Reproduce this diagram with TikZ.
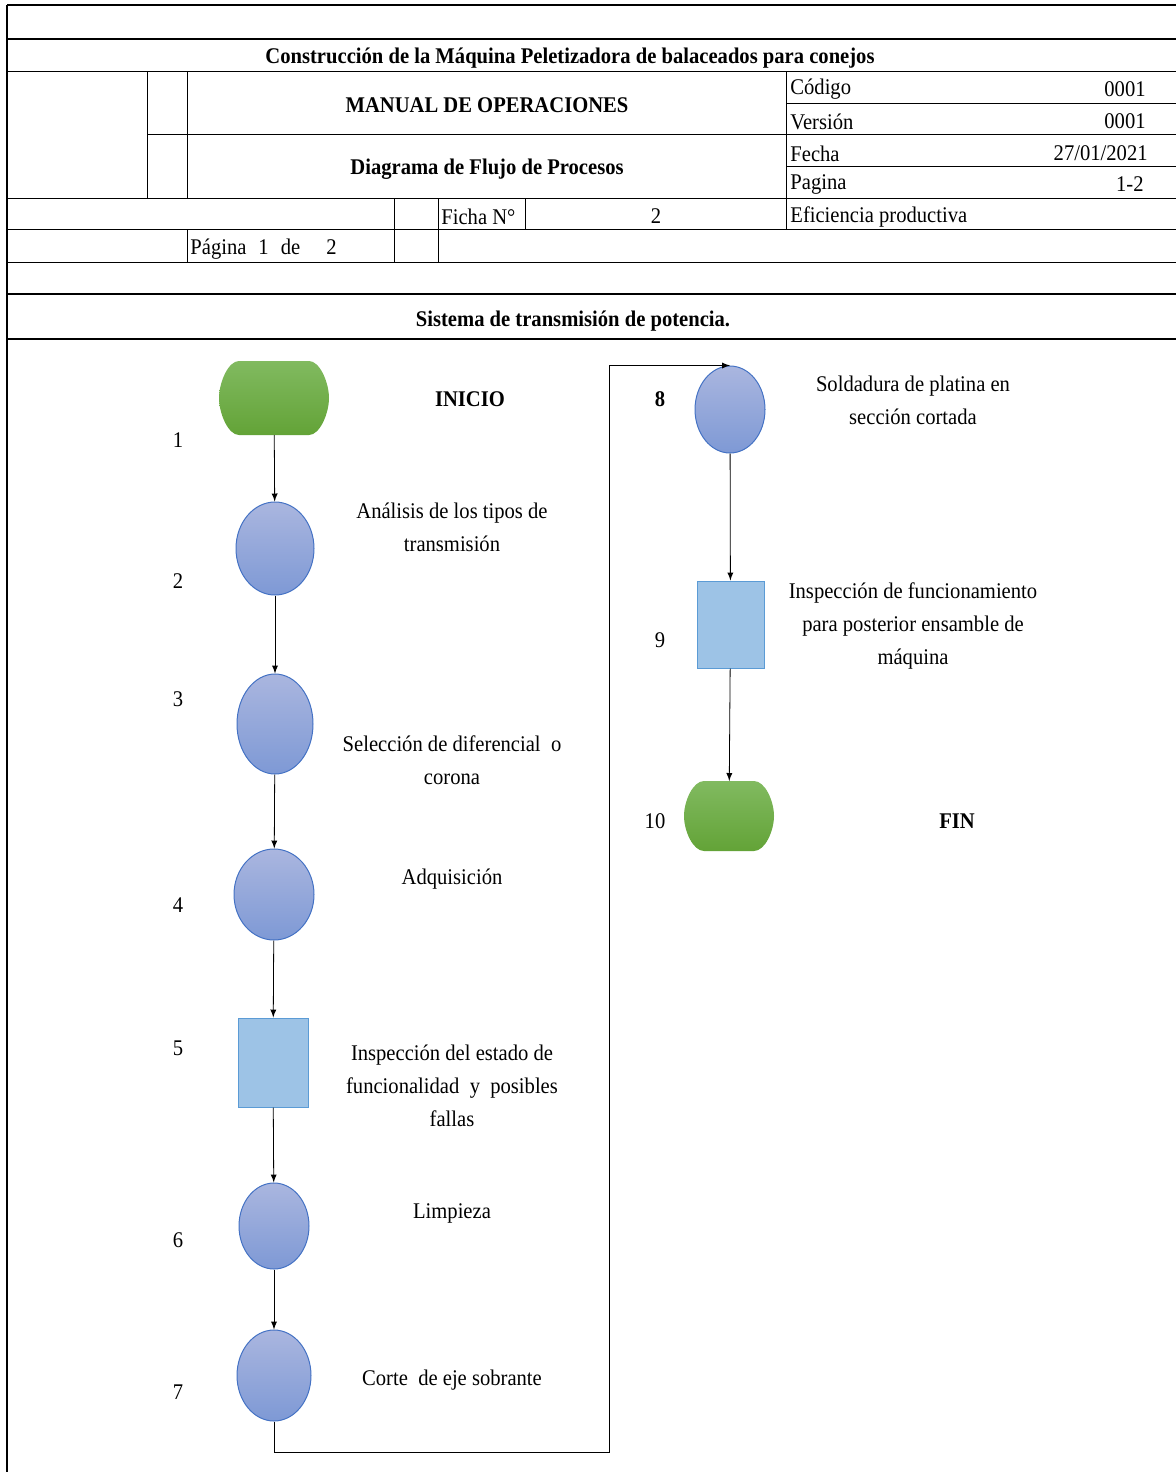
\documentclass[tikz,border=0pt]{standalone}
\usepackage{fontspec}
\setmainfont{Liberation Serif}[FakeStretch=0.92]
\usepackage{tikz}
\usetikzlibrary{arrows,positioning,shapes.geometric,calc}
\definecolor{opTop}{RGB}{170,182,223}
\definecolor{opBot}{RGB}{126,153,213}
\definecolor{opBorde}{RGB}{68,114,196}
\definecolor{terTop}{RGB}{129,186,96}
\definecolor{terBot}{RGB}{99,163,55}
\definecolor{insFill}{RGB}{157,195,230}
\definecolor{insBorde}{RGB}{91,155,213}
\tikzstyle{nOp}=[ellipse,inner sep=0pt,draw=opBorde,line width=0.5pt,top color=opTop,bottom color=opBot]
\tikzstyle{nIns}=[rectangle,inner sep=0pt,draw=insBorde,line width=0.5pt,fill=insFill]
\tikzstyle{nTer}=[rectangle,inner sep=0pt,outer sep=0pt]
\tikzstyle{eFl}=[draw=black,line width=0.4pt,-latex]
\tikzstyle{tN}=[inner sep=0pt,yshift=-1.25pt,font=\fontsize{11.2}{16.5}\selectfont,align=center]
\tikzstyle{tB}=[inner sep=0pt,yshift=-1.25pt,font=\fontsize{11.2}{16.5}\selectfont\bfseries,align=center]
\tikzstyle{lGrue}=[line width=1pt]
\tikzstyle{lFin}=[line width=0.5pt]
% forma de inicio / fin
\newcommand{\terminal}[1]{%
  \shade[top color=terTop,bottom color=terBot]
    ($(#1.north west)+(20,0)$) -- ($(#1.north east)+(-20,0)$)
    .. controls ($(#1.north east)+(-9,0)$) and ($(#1.east)+(0,-15)$) .. (#1.east)
    .. controls ($(#1.east)+(0,15)$) and ($(#1.south east)+(-9,0)$) .. ($(#1.south east)+(-20,0)$)
    -- ($(#1.south west)+(20,0)$)
    .. controls ($(#1.south west)+(9,0)$) and ($(#1.west)+(0,15)$) .. (#1.west)
    .. controls ($(#1.west)+(0,-15)$) and ($(#1.north west)+(9,0)$) .. cycle;}

\begin{document}
\begin{tikzpicture}[x=0.5pt,y=-0.5pt]
                \useasboundingbox (0,0) rectangle (1176,1472);
                % encabezado
                \draw[lGrue] (7,5) -- (1176,5);
                \draw[lGrue] (7,5) -- (7,1472);
                \foreach \yy in {39,294,339} \draw[lGrue] (7,\yy) -- (1176,\yy);
                \foreach \yy in {71,198,229,262} \draw[lFin] (7,\yy) -- (1176,\yy);
                \draw[lFin] (147,71) -- (147,198);
                \draw[lFin] (187,71) -- (187,198);
                \draw[lFin] (187,229) -- (187,262);
                \draw[lFin] (147,134) -- (1176,134);
                \draw[lFin] (786,71) -- (786,229);
                \draw[lFin] (786,103) -- (1176,103);
                \draw[lFin] (786,166) -- (1176,166);
                \draw[lFin] (394,198) -- (394,262);
                \draw[lFin] (438,198) -- (438,262);
                \draw[lFin] (525,198) -- (525,229);
                \draw (570,56) node[tB] (tTitulo) {Construcción de la Máquina Peletizadora de balaceados para conejos};
                \draw (487,103) node[tB] (tManual) {MANUAL DE OPERACIONES};
                \draw (487,167) node[tB] (tDiagrama) {Diagrama de Flujo de Procesos};
                \draw (790,87) node[tN,anchor=west] (tCod) {Código};
                \draw (1146,87) node[tN,anchor=east] (vCod) {0001};
                \draw (790,119) node[tN,anchor=west] (tVer) {Versión};
                \draw (1146,119) node[tN,anchor=east] (vVer) {0001};
                \draw (790,151) node[tN,anchor=west] (tFec) {Fecha};
                \draw (1148,151) node[tN,anchor=east] (vFec) {27/01/2021};
                \draw (790,182) node[tN,anchor=west] (tPag) {Pagina};
                \draw (1144,182) node[tN,anchor=east] (vPag) {1-2};
                \draw (441,214) node[tN,anchor=west] (tFicha) {Ficha N°};
                \draw (656,214) node[tN] (vFicha) {2};
                \draw (790,214) node[tN,anchor=west] (tEfi) {Eficiencia productiva};
                \draw (190,247) node[tN,anchor=west] (tPagina) {Página\hspace{6pt}1\hspace{6pt}de\hspace{13pt}2};
                \draw (573,319) node[tB] (tSistema) {Sistema de transmisión de potencia.};
                % diagrama
                \draw (274,398) node[nTer,minimum width=55pt,minimum height=37pt] (n1) {};
                \terminal{n1}
                \draw (275,548.5) node[nOp,minimum width=39pt,minimum height=46.5pt] (n2) {};
                \draw (275,724) node[nOp,minimum width=38pt,minimum height=50pt] (n3) {};
                \draw (274,894.5) node[nOp,minimum width=40pt,minimum height=45.5pt] (n4) {};
                \draw (273,1062.5) node[nIns,minimum width=35pt,minimum height=44.5pt] (n5) {};
                \draw (274,1226) node[nOp,minimum width=35pt,minimum height=43pt] (n6) {};
                \draw (274,1375.5) node[nOp,minimum width=37pt,minimum height=45.5pt] (n7) {};
                \draw (730,409.5) node[nOp,minimum width=35pt,minimum height=43.5pt] (n8) {};
                \draw (730.5,624.5) node[nIns,minimum width=33.5pt,minimum height=43.5pt] (n9) {};
                \draw (729,816) node[nTer,minimum width=45pt,minimum height=35pt] (n10) {};
                \terminal{n10}
                \coordinate (c7) at (609,1452);
                \path
                    (n1) edge[eFl] (n2)
                    (n2) edge[eFl] (n3)
                    (n3) edge[eFl] (n4)
                    (n4) edge[eFl] (n5)
                    (n5) edge[eFl] (n6)
                    (n6) edge[eFl] (n7)
                    (n8) edge[eFl] (n9)
                    (n9) edge[eFl] (n10)
                ;
                \draw[eFl] (n7.south) |- (c7) |- (n8.north);
                % numeros
                \draw (178,438) node[tN] (k1) {1};
                \draw (178,579) node[tN] (k2) {2};
                \draw (178,697) node[tN] (k3) {3};
                \draw (178,903) node[tN] (k4) {4};
                \draw (178,1046) node[tN] (k5) {5};
                \draw (178,1238) node[tN] (k6) {6};
                \draw (178,1390) node[tN] (k7) {7};
                \draw (660,397) node[tB] (k8) {8};
                \draw (660,638) node[tN] (k9) {9};
                \draw (655,819) node[tN] (k10) {10};
                % textos
                \draw (470,397) node[tB] (d1) {INICIO};
                \draw (452,525) node[tN] (d2) {Análisis de los tipos de\\transmisión};
                \draw (452,758) node[tN] (d3) {Selección de diferencial\ \ o\\corona};
                \draw (452,877) node[tN] (d4) {Adquisición};
                \draw (452,1083) node[tN] (d5) {Inspección del estado de\\funcionalidad\ \ y\ \ posibles\\fallas};
                \draw (452,1211) node[tN] (d6) {Limpieza};
                \draw (452,1378) node[tN] (d7) {Corte\ \ de eje sobrante};
                \draw (913,398) node[tN] (d8) {Soldadura de platina en\\sección cortada};
                \draw (913,623) node[tN] (d9) {Inspección de funcionamiento\\para posterior ensamble de\\máquina};
                \draw (957,819) node[tB] (d10) {FIN};
\end{tikzpicture}
\end{document}
